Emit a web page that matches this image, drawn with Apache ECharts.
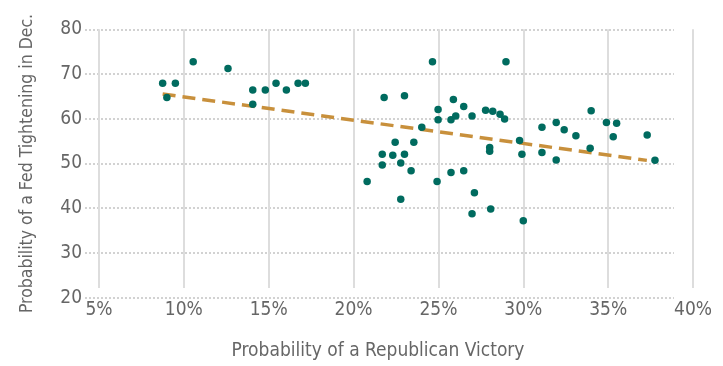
<!DOCTYPE html>
<html>
<head>
<meta charset="utf-8">
<script src="https://cdn.jsdelivr.net/npm/echarts@6/dist/echarts.min.js"></script>
<style>
html,body{margin:0;padding:0;background:#fff;}
#c{width:723px;height:366px;}
</style>
</head>
<body>
<div id="c"></div>
<script>
// Probability of a Republican Victory (%)
const repVictory = [8.75, 9.0, 9.5, 10.55, 12.6, 14.06, 14.06, 14.8, 15.43, 16.04, 16.73, 17.16,
  24.65, 28.98, 21.8, 23.0, 25.88, 26.49, 24.98, 27.78, 28.2, 28.63, 28.9, 24.98, 25.74, 26.02, 26.98,
  24.02, 29.78, 22.45, 23.55, 28.02, 28.02, 21.69, 22.31, 23.0, 29.92, 21.69, 22.78, 23.39, 25.74, 26.49,
  20.8, 24.92, 27.12, 22.78, 26.98, 28.08, 30.0, 31.1, 31.1, 31.94, 31.94, 32.41, 33.1, 34.0, 33.94,
  34.9, 35.5, 35.3, 37.3, 37.76];
// Probability of a Fed Tightening in Dec. (%)
const fedTightening = [67.5, 64.2, 67.5, 72.5, 70.9, 65.9, 62.6, 65.9, 67.5, 65.9, 67.5, 67.5,
  72.5, 72.5, 64.2, 64.6, 63.7, 62.1, 61.4, 61.2, 61.0, 60.3, 59.2, 59.0, 59.0, 59.9, 59.9,
  57.3, 54.2, 53.8, 53.8, 52.6, 51.7, 51.0, 50.8, 51.0, 51.0, 48.5, 49.0, 47.2, 46.8, 47.2,
  44.7, 44.7, 42.1, 40.6, 37.2, 38.3, 35.6, 57.3, 51.4, 58.4, 49.7, 56.7, 55.3, 61.1, 52.4,
  58.4, 58.2, 55.1, 55.5, 49.6];
// Trend line ends: [x, y]
const trendStart = [8.75, 65.0];
const trendEnd = [37.28, 49.6];
const xTicks = [5, 10, 15, 20, 25, 30, 35, 40];
const yTicks = [20, 30, 40, 50, 60, 70, 80];

const FONT = "'Liberation Sans Narrow', 'DejaVu Sans Condensed', 'Roboto', sans-serif";
const TXT = '#666666';
const chart = echarts.init(document.getElementById('c'));
chart.setOption({
  animation: false,
  textStyle: { fontFamily: FONT },
  grid: [
    { left: 99, right: 30, top: 29.3, bottom: 68.3 },
    { left: 85, right: 49, top: 29.3, bottom: 68.3 }
  ],
  xAxis: [
    { gridIndex: 0, type: 'value', min: xTicks[0], max: xTicks[xTicks.length - 1], interval: 5,
      axisLine: { show: false }, axisTick: { show: false },
      axisLabel: { formatter: '{value}%', color: TXT, fontSize: 19, fontFamily: FONT, margin: 13 },
      splitLine: { show: true, lineStyle: { color: '#dddddd', width: 2 } },
      name: 'Probability of a Republican Victory', nameLocation: 'middle', nameGap: 54,
      nameTextStyle: { color: TXT, fontSize: 19, fontFamily: FONT, padding: [0, 36, 0, 0] } },
    { gridIndex: 1, type: 'value', min: 0, max: 1, show: false }
  ],
  yAxis: [
    { gridIndex: 0, type: 'value', min: yTicks[0], max: yTicks[yTicks.length - 1], interval: 10,
      axisLine: { show: false }, axisTick: { show: false }, axisLabel: { show: false },
      splitLine: { show: false } },
    { gridIndex: 1, type: 'value', min: yTicks[0], max: yTicks[yTicks.length - 1], interval: 10,
      axisLine: { show: false }, axisTick: { show: false },
      axisLabel: { color: TXT, fontSize: 19, fontFamily: FONT, margin: 3 },
      splitLine: { show: true, lineStyle: { color: '#c4c4c4', type: [2, 2], width: 1.5 } },
      name: 'Probability of a Fed Tightening in Dec.', nameLocation: 'middle', nameGap: 49,
      nameRotate: 90, nameTextStyle: { color: TXT, fontSize: 17.5, fontFamily: FONT } }
  ],
  series: [
    { type: 'line', xAxisIndex: 0, yAxisIndex: 0, data: [trendStart, trendEnd], symbol: 'none', z: 1,
      lineStyle: { color: '#c8903c', width: 3.5, type: [13, 7] } },
    { type: 'scatter', xAxisIndex: 0, yAxisIndex: 0, symbolSize: 7.5, z: 3,
      itemStyle: { color: '#006b5f', opacity: 1 },
      data: repVictory.map((x, i) => [x, fedTightening[i]]) }
  ]
});
</script>
</body>
</html>
